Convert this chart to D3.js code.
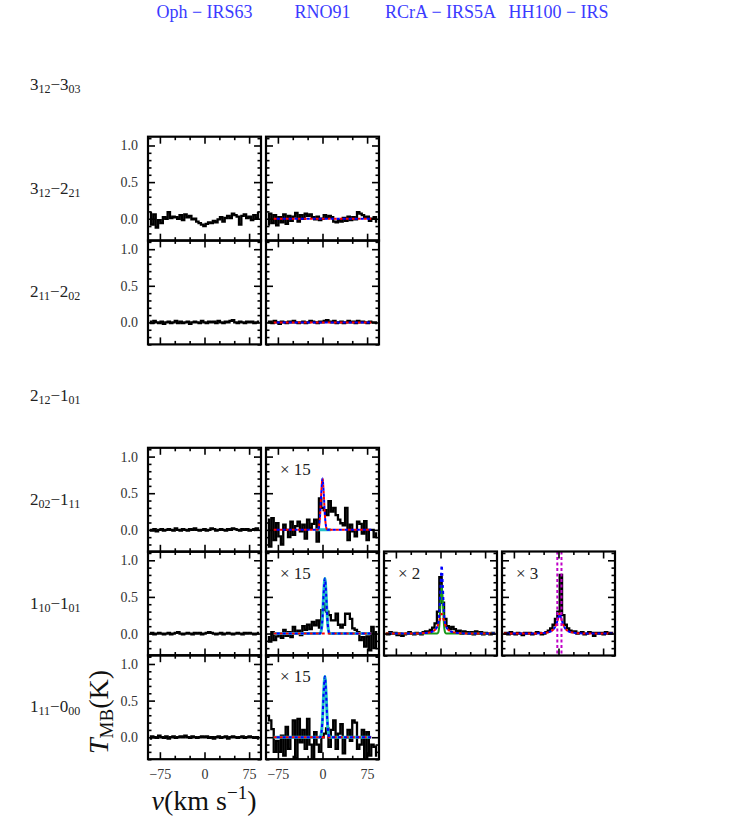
<!DOCTYPE html>
<html><head><meta charset="utf-8">
<script src="https://cdn.jsdelivr.net/npm/d3@7"></script>
<style>
body{margin:0;background:#fff}
svg{display:block}
text{font-family:"Liberation Serif","DejaVu Serif",serif}
</style>
</head><body>
<svg id="c" width="748" height="822"></svg>
<script>
// ---------- data ----------
const sources = ["Oph − IRS63", "RNO91", "RCrA − IRS5A", "HH100 − IRS"];
// [upper J, upper KaKc, lower J, lower KaKc]
const transitions = [
  ["3","12","3","03"], ["3","12","2","21"], ["2","11","2","02"], ["2","12","1","01"],
  ["2","02","1","11"], ["1","10","1","01"], ["1","11","0","00"]
];
const yMajorTicks = [0, 0.5, 1.0];
const yMinorTicks = [-0.3,-0.2,-0.1,0.1,0.2,0.3,0.4,0.6,0.7,0.8,0.9,1.1];
const xMajorTicks = [-75, 0, 75];
const xMinorTicks = [-50, -25, 25, 50];

// channel velocities (km/s)
const velocity = [-92,-88,-84,-80,-76,-72,-68,-64,-60,-56,-52,-48,-44,-40,-36,-32,-28,-24,-20,-16,-12,-8,-4,0,4,8,12,16,20,24,28,32,36,40,44,48,52,56,60,64,68,72,76,80,84,88,92];

// observed spectra T_MB (K), scaled as in the figure
const oph312_221 = [0.08,-0.08,0.06,-0.12,-0.02,-0.06,0.02,0.0,0.09,0.01,0.03,0.02,0.0,0.05,-0.02,0.06,0.02,0.04,-0.01,0.0,-0.04,-0.06,-0.08,-0.1,-0.07,-0.05,-0.06,-0.03,-0.05,-0.01,0.02,-0.04,0.01,0.04,0.01,0.07,0.05,0.03,-0.08,0.04,0.06,0.01,0.03,-0.02,0.05,0.01,0.08];
const rno312_221 = [-0.08,0.07,-0.06,0.05,-0.09,0.02,-0.05,0.06,-0.07,0.04,-0.03,0.03,0.08,-0.04,0.05,0.0,0.07,0.04,0.06,0.02,-0.01,0.03,-0.02,0.0,0.05,0.01,0.04,0.02,-0.04,-0.05,-0.02,-0.04,0.01,-0.03,0.03,-0.02,0.02,-0.01,0.09,0.07,0.05,0.02,0.03,-0.03,0.0,0.02,-0.04];
const oph211_202 = [0.01,-0.01,0.02,0.0,-0.01,0.01,-0.02,0.0,0.01,-0.01,0.0,0.02,-0.01,0.01,-0.01,0.0,0.01,-0.02,0.0,0.01,0.0,-0.01,0.02,0.0,-0.01,0.01,0.0,0.01,-0.01,0.02,0.0,-0.01,0.01,0.0,0.02,0.03,0.0,-0.01,0.01,0.0,-0.01,0.01,0.0,0.01,-0.01,0.0,0.01];
const rno211_202 = [0.0,0.01,-0.01,0.02,0.0,-0.02,0.01,0.0,-0.01,0.01,0.0,0.02,0.0,-0.01,0.0,0.01,-0.01,0.0,0.02,0.01,0.0,-0.01,0.01,0.0,0.02,0.03,0.01,0.0,0.02,-0.01,0.0,0.01,-0.01,0.0,0.02,0.0,0.01,-0.01,0.02,0.0,0.01,0.0,-0.01,0.01,0.0,0.0,-0.01];
const oph202_111 = [0.0,-0.01,0.01,-0.02,0.0,0.01,-0.01,0.0,0.01,0.0,-0.01,0.02,0.0,-0.01,0.01,0.0,-0.01,0.01,0.0,0.02,0.0,-0.01,0.0,0.01,-0.01,0.0,0.02,0.01,-0.01,0.0,0.01,0.0,-0.01,0.01,0.0,0.02,0.01,0.0,-0.01,0.01,0.0,0.01,-0.01,0.0,0.01,0.02,0.0];
const rno202_111 = [0.14,-0.23,0.16,-0.14,0.09,-0.09,-0.2,0.07,0.0,-0.1,0.11,-0.07,0.05,0.11,-0.02,0.07,-0.12,0.14,0.02,0.08,0.14,-0.16,0.43,0.30,0.27,0.2,0.39,0.25,0.30,0.2,0.14,0.09,0.06,0.30,-0.14,0.07,-0.02,-0.09,0.11,0.08,-0.05,0.12,-0.14,0.0,0.0,-0.1,-0.05];
const oph110_101 = [0.0,0.01,-0.01,0.0,0.01,0.0,-0.01,0.0,0.01,-0.01,0.0,0.01,0.02,0.0,-0.01,0.0,0.01,0.0,-0.01,0.01,0.0,0.01,-0.01,0.0,0.01,0.02,0.01,0.0,-0.01,0.0,0.01,-0.01,0.0,0.01,0.0,-0.01,0.0,0.01,0.0,-0.01,0.01,0.0,0.01,0.0,-0.01,0.0,0.01];
const rno110_101 = [-0.05,-0.11,0.02,-0.09,-0.04,0.0,-0.06,0.05,-0.03,0.02,-0.05,0.09,0.0,0.04,-0.02,0.1,0.05,0.12,0.06,0.16,0.11,0.18,0.08,0.32,0.41,0.3,0.25,0.18,0.18,0.27,0.12,0.08,0.12,0.27,0.27,0.2,0.07,0.05,0.02,-0.09,-0.05,-0.18,-0.04,-0.23,0.09,-0.2,0.02];
const rcra110_101 = [0.0,-0.01,0.02,0.0,0.01,-0.02,0.0,-0.03,-0.01,0.0,0.02,0.0,-0.01,0.01,0.0,-0.01,0.02,0.03,0.03,0.05,0.08,0.14,0.3,0.77,0.42,0.2,0.1,0.06,0.09,0.06,0.03,0.04,0.0,0.03,0.02,0.0,0.02,-0.01,0.03,0.0,0.02,-0.01,0.01,0.0,-0.01,0.01,0.0];
const hh110_101 = [0.0,0.01,-0.01,0.02,0.0,-0.01,0.01,0.0,-0.02,0.01,0.0,0.01,-0.01,0.0,0.02,0.01,-0.01,0.0,0.02,0.04,0.07,0.12,0.2,0.3,0.8,0.25,0.12,0.07,0.04,0.02,0.03,0.0,0.01,0.02,-0.01,0.0,0.02,0.01,-0.03,0.01,0.0,0.01,-0.01,0.02,0.0,0.01,0.0];
const oph111_000 = [-0.02,0.01,0.0,-0.01,0.02,0.0,-0.01,0.01,-0.02,0.0,0.01,-0.01,0.0,0.01,0.0,0.02,0.0,-0.01,0.01,0.0,-0.01,0.0,0.01,0.0,0.01,-0.01,0.0,-0.02,0.0,0.01,-0.01,0.0,0.01,-0.02,0.0,0.01,0.0,-0.01,0.0,0.01,-0.01,0.0,0.01,0.0,-0.01,0.0,-0.02];
const rno111_000 = [0.29,0.23,0.11,-0.2,-0.05,-0.2,0.02,-0.25,0.14,-0.16,0.0,0.23,-0.29,0.25,-0.07,0.1,-0.16,0.25,-0.1,-0.3,0.07,-0.1,-0.2,0.0,0.05,0.12,-0.13,0.1,0.23,-0.16,0.05,0.18,-0.22,0.0,0.1,-0.05,0.23,0.2,-0.16,-0.1,0.1,-0.32,0.07,-0.25,-0.1,-0.13,-0.25];

// fitted profiles, sampled at fitVelocity (null = not drawn)
const fitVelocity = [-92,-82,-50,-40,-32,-26,-20,-16,-12,-10,-8,-6,-4,-2,0,2,4,6,8,10,12,14,16,20,26,32,40,50,82,92];
const fitZero    = [null,0,0,0,0,0,0,0,0,0,0,0,0,0,0,0,0,0,0,0,0,0,0,0,0,0,0,0,0,null];
const rno202Fit  = [null,0,0,0,0,0,0,0,0,0,0,0.044,0.2,0.51,0.7,0.51,0.2,0.044,0,0,0,0,0,0,0,0,0,0,0,null];
const rno202Cyan = [null,null,null,null,null,null,null,null,0,0,0,0,0,0,0,0,0,0,0,0,0,0,null,null,null,null,null,null,null,null];
const rno110Fit  = [null,0,0,0,0,0,0,0,0,0,0,0,0,0.047,0.22,0.55,0.75,0.55,0.22,0.047,0,0,0,0,0,0,0,0,0,null];
const rno111Fit  = [null,0,0,0,0,0,0,0,0,0,0,0,0,0.052,0.24,0.61,0.83,0.61,0.24,0.052,0,0,0,0,0,0,0,0,0,null];
const rcraNarrow = [0,0,0,0,0,0,0,0,0,0,0,0,0.011,0.107,0.42,0.66,0.42,0.107,0.011,0,0,0,0,0,0,0,0,0,0,0];
const rcraBroad  = [0,0,0,0.001,0.003,0.006,0.012,0.02,0.033,0.045,0.06,0.085,0.12,0.17,0.22,0.27,0.22,0.17,0.12,0.085,0.06,0.045,0.033,0.02,0.01,0.005,0.002,0,0,0];
const rcraTotal  = [0,0,0,0.001,0.003,0.006,0.012,0.02,0.033,0.045,0.06,0.085,0.131,0.277,0.64,0.93,0.64,0.277,0.131,0.085,0.06,0.045,0.033,0.02,0.01,0.005,0.002,0,0,0];
const hhFit      = [0,0,0,0.001,0.003,0.006,0.012,0.02,0.033,0.045,0.06,0.085,0.12,0.17,0.22,0.27,0.22,0.17,0.12,0.085,0.06,0.045,0.033,0.02,0.01,0.005,0.002,0,0,0];
const hhMarks    = [-2, 5];

const panels = [
  {row:1, col:0, spec:oph312_221},
  {row:1, col:1, spec:rno312_221, red:fitZero, blue:fitZero},
  {row:2, col:0, spec:oph211_202},
  {row:2, col:1, spec:rno211_202, red:fitZero, blue:fitZero},
  {row:4, col:0, spec:oph202_111},
  {row:4, col:1, spec:rno202_111, cyan:rno202Cyan, red:rno202Fit, blue:rno202Fit, factor:"× 15"},
  {row:5, col:0, spec:oph110_101},
  {row:5, col:1, spec:rno110_101, cyan:rno110Fit, red:fitZero, blue:rno110Fit, factor:"× 15"},
  {row:5, col:2, spec:rcra110_101, green:rcraNarrow, red:rcraBroad, blue:rcraTotal, factor:"× 2"},
  {row:5, col:3, spec:hh110_101, red:hhFit, blue:hhFit, marks:hhMarks, factor:"× 3"},
  {row:6, col:0, spec:oph111_000},
  {row:6, col:1, spec:rno111_000, cyan:rno111Fit, red:fitZero, blue:rno111Fit, factor:"× 15"}
];

// ---------- layout ----------
const W = 113, H = 104;
const colX = d3.scaleLinear().domain([0, 1]).range([148, 266]);
const rowY = d3.scaleLinear().domain([0, 1]).range([33, 136.7]);
const x = d3.scaleLinear().domain([-95, 95]).range([0, W]);
const y = d3.scaleLinear().domain([-0.3, 1.12]).range([H, 0]);

const svg = d3.select("#c");
const defs = svg.append("defs");
defs.append("clipPath").attr("id","clip").append("rect").attr("width",W).attr("height",H);

// column headers
svg.selectAll("text.hdr").data(sources).join("text").attr("class","hdr")
  .attr("x",(d,i)=>colX(i)+W/2).attr("y",18).attr("text-anchor","middle")
  .attr("font-size",18).attr("fill","#3b3bff").text(d=>d);

// row labels
transitions.forEach((t,i)=>{
  const tx = svg.append("text").attr("x",30).attr("y",rowY(i)+H/2+5).attr("font-size",17).attr("fill","#222");
  tx.append("tspan").text(t[0]);
  tx.append("tspan").attr("font-size",12).attr("dy",3).text(t[1]);
  tx.append("tspan").attr("dy",-3).text("−"+t[2]);
  tx.append("tspan").attr("font-size",12).attr("dy",3).text(t[3]);
});

const specLine = d3.line().x((d)=>x(d[0])).y(d=>y(d[1])).curve(d3.curveStep);
const fitLine = d3.line().defined(d=>d[1]!==null).x(d=>x(d[0])).y(d=>y(d[1])).curve(d3.curveMonotoneX);

panels.forEach(p=>{
  const g = svg.append("g").attr("transform",`translate(${colX(p.col)},${rowY(p.row)})`);
  const plot = g.append("g").attr("clip-path","url(#clip)");
  plot.append("path").datum(d3.zip(velocity,p.spec)).attr("d",specLine)
    .attr("fill","none").attr("stroke","#000").attr("stroke-width",2.3);
  if(p.cyan) plot.append("path").datum(d3.zip(fitVelocity,p.cyan)).attr("d",fitLine)
    .attr("fill","none").attr("stroke","#20c0c8").attr("stroke-width",3);
  if(p.green) plot.append("path").datum(d3.zip(fitVelocity,p.green)).attr("d",fitLine)
    .attr("fill","none").attr("stroke","#1a991a").attr("stroke-width",2);
  if(p.red) plot.append("path").datum(d3.zip(fitVelocity,p.red)).attr("d",fitLine)
    .attr("fill","none").attr("stroke","#ff0000").attr("stroke-width",2).attr("stroke-dasharray","3,3");
  if(p.blue) plot.append("path").datum(d3.zip(fitVelocity,p.blue)).attr("d",fitLine)
    .attr("fill","none").attr("stroke","#0000ff").attr("stroke-width",2).attr("stroke-dasharray","3,3").attr("stroke-dashoffset",3);
  if(p.marks) plot.selectAll("line.mk").data(p.marks).join("line")
    .attr("x1",d=>x(d)).attr("x2",d=>x(d)).attr("y1",0).attr("y2",H)
    .attr("stroke","#c000c8").attr("stroke-width",2).attr("stroke-dasharray","3,2.5");
  if(p.factor) g.append("text").attr("x",14).attr("y",27).attr("font-size",17).attr("fill","#222").text(p.factor);

  // axes (ticks inward on all four sides)
  const showY = p.col===0, showX = p.row===6;
  const mk = (axisFn, scale, vals, size, fmt) => axisFn(scale).tickValues(vals).tickSizeInner(-size).tickSizeOuter(0).tickPadding(10).tickFormat(fmt);
  const fy = showY ? d3.format(".1f") : ()=>"";
  const fx = showX ? (d=>d<0?"−"+Math.abs(d):String(d)) : ()=>"";
  const axes = [
    [g.append("g"), mk(d3.axisLeft, y, yMajorTicks, 7, fy)],
    [g.append("g"), mk(d3.axisLeft, y, yMinorTicks, 3.5, ()=>"")],
    [g.append("g").attr("transform",`translate(${W},0)`), mk(d3.axisRight, y, yMajorTicks, 7, ()=>"")],
    [g.append("g").attr("transform",`translate(${W},0)`), mk(d3.axisRight, y, yMinorTicks, 3.5, ()=>"")],
    [g.append("g").attr("transform",`translate(0,${H})`), mk(d3.axisBottom, x, xMajorTicks, 7, fx)],
    [g.append("g").attr("transform",`translate(0,${H})`), mk(d3.axisBottom, x, xMinorTicks, 3.5, ()=>"")],
    [g.append("g"), mk(d3.axisTop, x, xMajorTicks, 7, ()=>"")],
    [g.append("g"), mk(d3.axisTop, x, xMinorTicks, 3.5, ()=>"")]
  ];
  axes.forEach(([sel, ax])=>{
    sel.call(ax);
    sel.select(".domain").remove();
    sel.attr("font-size",null).attr("font-family",null);
    sel.selectAll("line").attr("stroke","#000").attr("stroke-width",1.6);
    sel.selectAll("text").style("font-size","14px").attr("fill","#333").style("font-family","'Liberation Serif',serif");
  });
  g.append("rect").attr("width",W).attr("height",H).attr("fill","none").attr("stroke","#000").attr("stroke-width",2.2);
});

// axis titles
const yl = svg.append("text").attr("transform","translate(108,712) rotate(-90)").attr("text-anchor","middle").attr("font-size",28).attr("fill","#111");
yl.append("tspan").attr("font-style","italic").text("T");
yl.append("tspan").attr("font-size",19).attr("dy",5).text("MB");
yl.append("tspan").attr("dy",-5).text("(K)");

const xl = svg.append("text").attr("x",204).attr("y",810).attr("text-anchor","middle").attr("font-size",28).attr("fill","#111");
xl.append("tspan").attr("font-style","italic").text("v");
xl.append("tspan").text("(km s");
xl.append("tspan").attr("font-size",19).attr("dy",-11).text("−1");
xl.append("tspan").attr("dy",11).text(")");
</script>
</body></html>
